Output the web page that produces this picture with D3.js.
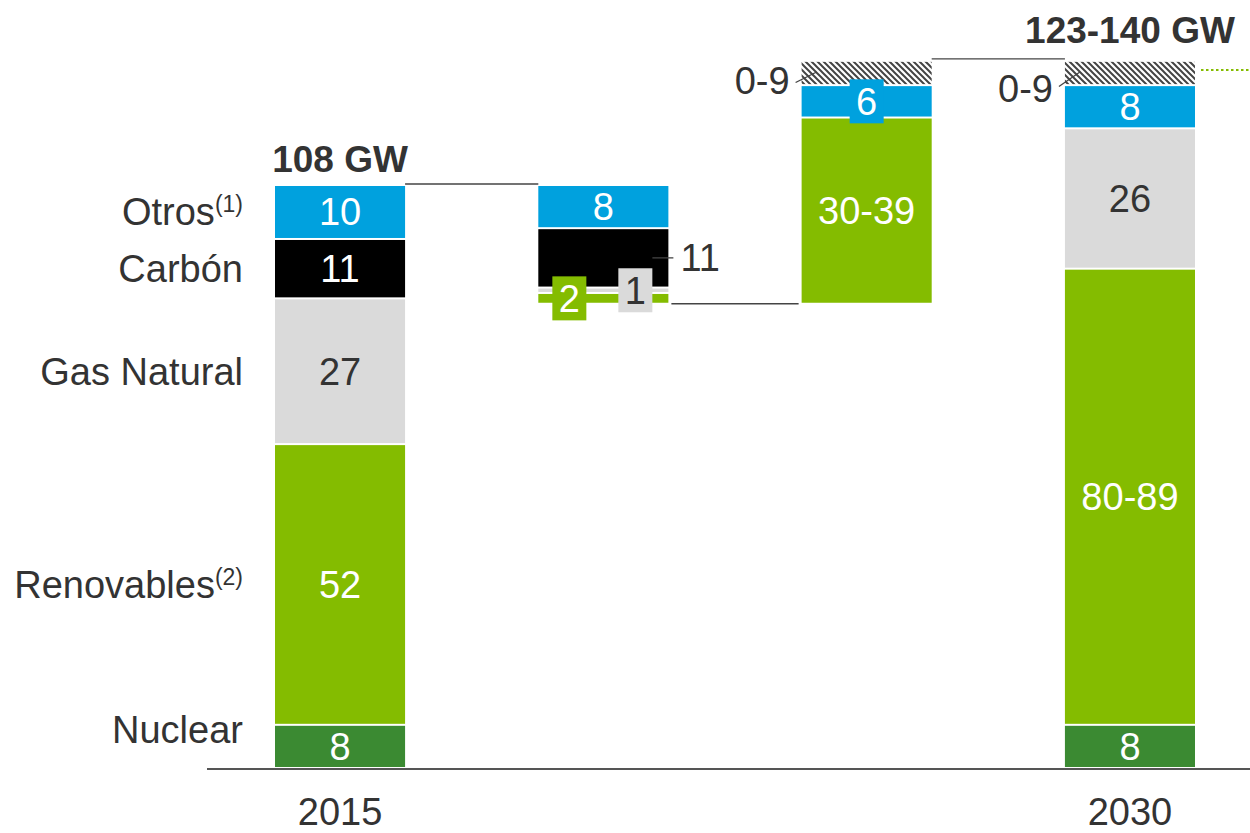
<!DOCTYPE html>
<html>
<head>
<meta charset="utf-8">
<script src="https://cdn.jsdelivr.net/npm/d3@7"></script>
<style>
  body { margin: 0; background: #fff; }
  text { font-family: "Liberation Sans", Arial, sans-serif; }
</style>
</head>
<body>
<div id="chart"></div>
<script>
// Data
var categories = ["Nuclear", "Renovables", "Gas Natural", "Carbón", "Otros"];
var categoryNotes = ["", "(2)", "", "", "(1)"];
var columns = ["2015", "bajas", "altas", "2030"];
var yearLabels = ["2015", "", "", "2030"];
var totalLabels = ["108 GW", "", "", "123-140 GW"];

var values2015 = [8, 52, 27, 11, 10];
var labels2015 = ["8", "52", "27", "11", "10"];

var valuesBajas = [0, 2, 1, 11, 8];
var labelsBajas = ["", "2", "1", "11", "8"];

var valuesAltas = [0, 34.5, 0, 0, 6];
var labelsAltas = ["", "30-39", "", "", "6"];

var values2030 = [8, 84.5, 26, 0, 8];
var labels2030 = ["8", "80-89", "26", "", "8"];

// uncertain range (0-9 GW) drawn hatched on top
var rangeValue = 4.5;
var rangeLabel = "0-9";

var colors = ["#3b8a32", "#84bc00", "#dadada", "#000000", "#00a1de"];
var textColors = ["#fff", "#fff", "#333", "#fff", "#fff"];

// Configuring SVG
var svgWidth = 1250;
var svgHeight = 833;
var baseY = 769;

var svg = d3.select("#chart")
    .append("svg")
    .attr("width", svgWidth)
    .attr("height", svgHeight);

var defs = svg.append("defs");
var hatch = defs.append("pattern")
    .attr("id", "hatch")
    .attr("patternUnits", "userSpaceOnUse")
    .attr("width", 6)
    .attr("height", 6);
hatch.append("rect").attr("width", 6).attr("height", 6).attr("fill", "#fff");
hatch.append("path")
    .attr("d", "M-1,5 l2,2 M0,0 l6,6 M5,-1 l2,2")
    .attr("stroke", "#444")
    .attr("stroke-width", 2);

// scales
var xScale = d3.scaleBand()
    .domain(columns)
    .range([275, 1195])
    .paddingInner(0.506)
    .paddingOuter(0);

var yScale = d3.scaleLinear()
    .domain([0, d3.sum(values2015)])
    .range([baseY, 186]);

var bw = xScale.bandwidth();

// build segments for each column
function stack(col, base, values, labels) {
    var out = [];
    var y0 = base;
    values.forEach(function(v, i) {
        if (v > 0) {
            out.push({col: col, cat: i, y0: y0, y1: y0 + v, label: labels[i]});
        }
        y0 += v;
    });
    return {segs: out, top: y0};
}

var total2015 = d3.sum(values2015);
var baseBajas = total2015 - d3.sum(valuesBajas);

var s2015 = stack("2015", 0, values2015, labels2015);
var sBajas = stack("bajas", baseBajas, valuesBajas, labelsBajas);
var sAltas = stack("altas", baseBajas, valuesAltas, labelsAltas);
var s2030 = stack("2030", 0, values2030, labels2030);

var allSegs = s2015.segs.concat(sBajas.segs, sAltas.segs, s2030.segs);

var gap = 2;

// bars
svg.append("g").selectAll("rect")
    .data(allSegs)
    .enter()
    .append("rect")
    .attr("x", d => xScale(d.col))
    .attr("y", d => yScale(d.y1))
    .attr("width", bw)
    .attr("height", d => Math.max(1, yScale(d.y0) - yScale(d.y1) - gap))
    .attr("fill", d => colors[d.cat]);

// hatched range on top of "altas" and "2030"
var rangeBars = [
    {col: "altas", y0: sAltas.top, y1: sAltas.top + rangeValue},
    {col: "2030", y0: s2030.top, y1: s2030.top + rangeValue}
];
svg.append("g").selectAll("rect")
    .data(rangeBars)
    .enter()
    .append("rect")
    .attr("x", d => xScale(d.col))
    .attr("y", d => yScale(d.y1))
    .attr("width", bw)
    .attr("height", d => yScale(d.y0) - yScale(d.y1) - gap)
    .attr("fill", "url(#hatch)");

// baseline
svg.append("line")
    .attr("x1", 207).attr("x2", 1250)
    .attr("y1", baseY).attr("y2", baseY)
    .attr("stroke", "#555")
    .attr("stroke-width", 2);

// connectors
var connectors = [
    {x1: xScale("2015") + bw, x2: xScale("bajas"), v: total2015, dy: -2},
    {x1: xScale("bajas") + bw + 3, x2: xScale("altas") - 3, v: baseBajas, dy: -1},
    {x1: xScale("altas") + bw, x2: xScale("2030"), v: sAltas.top + rangeValue, dy: -3}
];
svg.append("g").selectAll("line")
    .data(connectors)
    .enter()
    .append("line")
    .attr("x1", d => d.x1).attr("x2", d => d.x2)
    .attr("y1", d => yScale(d.v) + d.dy).attr("y2", d => yScale(d.v) + d.dy)
    .attr("stroke", "#444")
    .attr("stroke-width", 1.3);

// green dotted line beside 2030 range
svg.append("line")
    .attr("x1", xScale("2030") + bw + 6).attr("x2", 1250)
    .attr("y1", 70).attr("y2", 70)
    .attr("stroke", "#84bc00")
    .attr("stroke-width", 2)
    .attr("stroke-dasharray", "2.5,2.5");

// value labels
var fontSize = 38;
var boxDx = {"bajas-1": -34, "bajas-2": 32, "altas-4": 0};

allSegs.forEach(function(d) {
    var cx = xScale(d.col) + bw / 2;
    var cy = (yScale(d.y0) - gap + yScale(d.y1)) / 2;
    var key = d.col + "-" + d.cat;

    if (key === "bajas-3") {
        // label outside with leader line
        svg.append("line")
            .attr("x1", xScale(d.col) + bw - 16).attr("x2", xScale(d.col) + bw + 5)
            .attr("y1", cy).attr("y2", cy)
            .attr("stroke", "#444").attr("stroke-width", 1.3);
        svg.append("text")
            .attr("x", xScale(d.col) + bw + 12)
            .attr("y", cy)
            .attr("dy", "0.35em")
            .attr("font-size", fontSize)
            .attr("fill", "#333")
            .text(d.label);
        return;
    }
    if (key in boxDx) {
        var bx = cx + boxDx[key];
        var bh = 44;
        var by = cy - 22;
        svg.append("rect")
            .attr("x", bx - 17).attr("y", by)
            .attr("width", 34).attr("height", bh)
            .attr("fill", colors[d.cat]);
        svg.append("text")
            .attr("x", bx)
            .attr("y", by + bh / 2)
            .attr("dy", "0.35em")
            .attr("text-anchor", "middle")
            .attr("font-size", fontSize)
            .attr("fill", textColors[d.cat])
            .text(d.label);
        return;
    }
    svg.append("text")
        .attr("x", cx)
        .attr("y", cy)
        .attr("dy", "0.35em")
        .attr("text-anchor", "middle")
        .attr("font-size", fontSize)
        .attr("fill", textColors[d.cat])
        .text(d.label);
});

// range labels with leader lines
rangeBars.forEach(function(d, i) {
    var left = xScale(d.col);
    var ym = (yScale(d.y1) + yScale(d.y0)) / 2;
    var lift = i === 0 ? -3 : 5;
    svg.append("line")
        .attr("x1", left - 6).attr("y1", ym + 10 + lift / 2)
        .attr("x2", left + 15).attr("y2", ym - 2)
        .attr("stroke", "#444").attr("stroke-width", 1.3);
    svg.append("text")
        .attr("x", left - 12)
        .attr("y", ym + 10 + lift)
        .attr("dy", "0.35em")
        .attr("text-anchor", "end")
        .attr("font-size", fontSize)
        .attr("fill", "#333")
        .text(rangeLabel);
});

// category labels on the left
var catGroup = svg.append("g");
s2015.segs.forEach(function(d) {
    var cy = (yScale(d.y0) - gap + yScale(d.y1)) / 2;
    if (d.cat === 0) cy -= 17;
    var t = catGroup.append("text")
        .attr("x", 243)
        .attr("y", cy)
        .attr("dy", "0.35em")
        .attr("text-anchor", "end")
        .attr("font-size", fontSize)
        .attr("fill", "#333");
    t.append("tspan").text(categories[d.cat]);
    if (categoryNotes[d.cat]) {
        t.append("tspan")
            .attr("font-size", 23)
            .attr("baseline-shift", "55%")
            .text(categoryNotes[d.cat]);
    }
});

// totals
columns.forEach(function(c, i) {
    if (!totalLabels[i]) return;
    var top = i === 0 ? total2015 : s2030.top + rangeValue;
    svg.append("text")
        .attr("x", xScale(c) + bw / 2)
        .attr("y", yScale(top) - (i === 0 ? 14 : 19))
        .attr("text-anchor", "middle")
        .attr("font-size", 37)
        .attr("font-weight", "bold")
        .attr("fill", "#333")
        .text(totalLabels[i]);
});

// year labels
columns.forEach(function(c, i) {
    if (!yearLabels[i]) return;
    svg.append("text")
        .attr("x", xScale(c) + bw / 2)
        .attr("y", 825)
        .attr("text-anchor", "middle")
        .attr("font-size", fontSize)
        .attr("fill", "#333")
        .text(yearLabels[i]);
});
</script>
</body>
</html>
